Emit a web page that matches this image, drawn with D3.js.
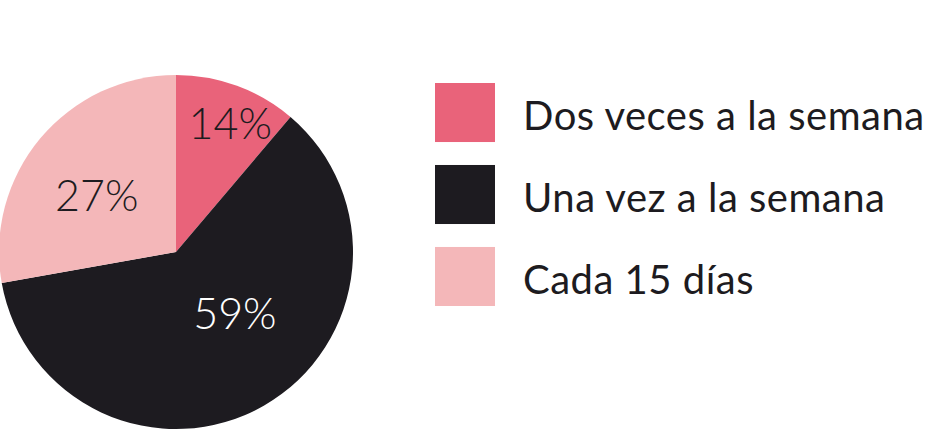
<!DOCTYPE html>
<html lang="es">
<head>
    <meta charset="UTF-8">
    <title>Frecuencia</title>
    <script src="https://d3js.org/d3.v7.min.js"></script>
    <style>
        body {
            margin: 0;
            padding: 0;
            background-color: #ffffff;
        }
        svg {
            display: block;
        }
        text {
            font-family: Lato, "Liberation Sans", sans-serif;
        }
        .pct {
            font-weight: 300;
        }
        .leyenda {
            font-weight: 400;
            letter-spacing: 0.5px;
        }
    </style>
</head>
<body>
    <svg id="chart" width="926" height="430"></svg>

    <script>
        // categorias y valores (los sectores se leen de la imagen, las etiquetas son las impresas)
        const categorias = ["Dos veces a la semana", "Una vez a la semana", "Cada 15 días"];
        const valores = [11.2, 61, 27.8];
        const etiquetas = ["14%", "59%", "27%"];
        const colores = ["#e9637a", "#1d1b20", "#f4b7b9"];
        const coloresTexto = ["#1d1b20", "#ffffff", "#1d1b20"];

        const svg = d3.select("#chart");
        const radius = 177;
        const g = svg.append("g").attr("transform", "translate(176, 252)");

        const pie = d3.pie().sort(null).value(d => d);
        const arc = d3.arc().innerRadius(0).outerRadius(radius);
        const arcs = pie(valores);

        g.selectAll("path")
            .data(arcs)
            .enter()
            .append("path")
            .attr("d", arc)
            .attr("fill", (d, i) => colores[i]);

        // posicion de las etiquetas: fraccion del radio y giro (grados) respecto al centro del sector
        const labelRadius = [0.79, 0.48, 0.55];
        const labelShift = [2.7, -14, -4.5];
        g.selectAll("text.pct")
            .data(arcs)
            .enter()
            .append("text")
            .attr("class", "pct")
            .attr("transform", (d, i) => {
                const a = (d.startAngle + d.endAngle) / 2 + labelShift[i] * Math.PI / 180;
                const r = radius * labelRadius[i];
                return `translate(${r * Math.sin(a)}, ${-r * Math.cos(a)})`;
            })
            .attr("text-anchor", "middle")
            .attr("dy", "0.36em")
            .attr("font-size", 43)
            .attr("fill", (d, i) => coloresTexto[i])
            .text((d, i) => etiquetas[i]);

        // leyenda
        const legendY = d3.scaleBand()
            .domain(categorias)
            .range([83, 306])
            .paddingInner(0.28)
            .paddingOuter(0);

        const legend = svg.append("g");
        const item = legend.selectAll("g")
            .data(categorias)
            .enter()
            .append("g")
            .attr("transform", d => `translate(435, ${legendY(d)})`);

        item.append("rect")
            .attr("width", 60)
            .attr("height", legendY.bandwidth())
            .attr("fill", (d, i) => colores[i]);

        item.append("text")
            .attr("class", "leyenda")
            .attr("x", 88)
            .attr("y", 47)
            .attr("font-size", 40)
            .attr("fill", "#1d1b20")
            .text(d => d);
    </script>
</body>
</html>
